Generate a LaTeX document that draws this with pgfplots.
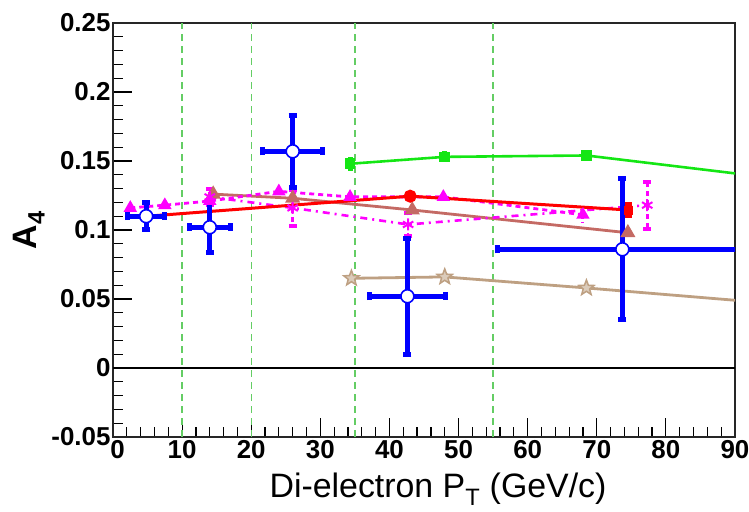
\documentclass[border=0pt]{standalone}
\usepackage{fontspec}
\setmainfont{Liberation Sans}
\usepackage{pgfplots}
\pgfplotsset{compat=1.18}
\usepackage{pgfplotstable}

\definecolor{rgreen}{RGB}{20,230,20}
\definecolor{rosy}{RGB}{196,106,100}
\definecolor{tanstar}{RGB}{190,160,130}
\definecolor{vgreen}{RGB}{100,205,100}
\definecolor{mag}{RGB}{255,0,255}
\definecolor{rred}{RGB}{255,0,0}
\definecolor{rblue}{RGB}{0,0,255}

% five-pointed star outline
\pgfdeclareplotmark{pstar}{%
  \pgfpathmoveto{\pgfpointpolar{90}{\pgfplotmarksize}}%
  \pgfpathlineto{\pgfpointpolar{126}{0.42\pgfplotmarksize}}%
  \pgfpathlineto{\pgfpointpolar{162}{\pgfplotmarksize}}%
  \pgfpathlineto{\pgfpointpolar{198}{0.42\pgfplotmarksize}}%
  \pgfpathlineto{\pgfpointpolar{234}{\pgfplotmarksize}}%
  \pgfpathlineto{\pgfpointpolar{270}{0.42\pgfplotmarksize}}%
  \pgfpathlineto{\pgfpointpolar{306}{\pgfplotmarksize}}%
  \pgfpathlineto{\pgfpointpolar{342}{0.42\pgfplotmarksize}}%
  \pgfpathlineto{\pgfpointpolar{18}{\pgfplotmarksize}}%
  \pgfpathlineto{\pgfpointpolar{54}{0.42\pgfplotmarksize}}%
  \pgfpathclose
  \pgfusepathqfillstroke}

% measured A4 with x and y uncertainties
\pgfplotstableread{
x    y      ex   ey
4.8  0.110  2.7  0.010
14.0 0.102  3.0  0.018
26.0 0.157  4.3  0.026
42.6 0.052  5.5  0.042
73.7 0.086  18.0 0.051
}\measured

\pgfplotstableread{
x    y      ey
34.3 0.148  0.005
48.0 0.153  0.004
68.5 0.154  0.003
95.0 0.138  0.000
}\greenset

\pgfplotstableread{
x    y
5.0  0.110
43.0 0.1245
74.5 0.1145
}\redset

\pgfplotstableread{
x    y
14.5 0.126
26.0 0.123
43.3 0.1145
74.5 0.098
}\rosyset

\pgfplotstableread{
x    y
34.5 0.065
48.0 0.066
68.5 0.058
95.0 0.047
}\tanset

\pgfplotstableread{
x    y      ey
2.5  0.116  0.000
7.5  0.118  0.000
14.0 0.121  0.000
24.0 0.128  0.000
34.3 0.124  0.000
47.8 0.124  0.000
68.0 0.111  0.006
}\magtri

\pgfplotstableread{
x    y      ey
14.0 0.124  0.006
26.0 0.116  0.013
42.7 0.104  0.008
77.3 0.118  0.017
}\magstar

\begin{document}
\begin{tikzpicture}
\path[use as bounding box] (0,0) rectangle (749bp,512bp);
\begin{axis}[
  at={(113bp,75bp)}, anchor=south west,
  scale only axis, width=622bp, height=414bp,
  xmin=0, xmax=90, ymin=-0.05, ymax=0.25,
  axis line style={line width=1.2bp, black!85},
  tick pos=left, tick align=inside,
  xtick={0,10,...,90},
  xticklabels={\hspace*{9bp}0,10,20,30,40,50,60,70,80,90},
  ytick={-0.05,0,0.05,0.1,0.15,0.2,0.25},
  yticklabels={-0.05,0,0.05,0.1,0.15,0.2,0.25},
  minor x tick num=4, minor y tick num=4,
  major tick length=19bp, minor tick length=10bp,
  every tick/.style={black, line width=1.2bp},
  tick label style={font=\fontsize{26}{30}\selectfont\bfseries},
  yticklabel style={xshift=1bp},
  xlabel={Di-electron P\textsubscript{T} (GeV/c)},
  ylabel={A\textsubscript{4}},
  xlabel style={font=\fontsize{34}{38}\selectfont, yshift=-7bp, xshift=14bp},
  ylabel style={font=\fontsize{34}{40}\selectfont\bfseries},
]
% bin boundaries
\addplot[vgreen, line width=1.3bp, dash pattern=on 7bp off 5bp] coordinates {(10,-0.05) (10,0.25)};
\addplot[vgreen, line width=1.3bp, dash pattern=on 7bp off 5bp] coordinates {(20,-0.05) (20,0.25)};
\addplot[vgreen, line width=1.3bp, dash pattern=on 7bp off 5bp] coordinates {(35,-0.05) (35,0.25)};
\addplot[vgreen, line width=1.3bp, dash pattern=on 7bp off 5bp] coordinates {(55,-0.05) (55,0.25)};
% zero line
\addplot[black, line width=1.2bp] coordinates {(0,0) (90,0)};

% tan stars
\addplot[tanstar, line width=2.8bp, mark=pstar, mark size=8bp,
  mark options={line width=1.5bp, solid, fill=tanstar!55}] table[x=x,y=y] {\tanset};

% green squares
\addplot[rgreen, line width=2.6bp, mark=square*, mark size=4bp,
  error bars/.cd, y dir=both, y explicit,
  error bar style={line width=5bp}, error mark=none]
  table[x=x,y=y,y error=ey] {\greenset};

% rosy triangles
\addplot[rosy, line width=2.8bp, mark=triangle*, mark size=6bp,
  mark options={solid}] table[x=x,y=y] {\rosyset};

% magenta triangles, dashed
\addplot[mag, line width=2.8bp, dash pattern=on 5bp off 4bp,
  mark=triangle*, mark size=5bp, mark options={solid},
  error bars/.cd, y dir=both, y explicit,
  error bar style={line width=3bp, dash pattern=on 4bp off 3bp}, error mark=none]
  table[x=x,y=y,y error=ey] {\magtri};

% magenta stars, dash-dot
\addplot[mag, line width=2.6bp, dash pattern=on 7bp off 5bp on 2bp off 5bp,
  mark=asterisk, mark size=6bp, mark options={solid, line width=2bp},
  error bars/.cd, y dir=both, y explicit,
  error bar style={line width=2.6bp, dash pattern=on 5bp off 4bp},
  error mark options={rotate=90, mark size=4bp, line width=4bp}]
  table[x=x,y=y,y error=ey] {\magstar};

% red line
\addplot[rred, line width=3bp, mark=*, mark size=5bp, mark indices={2}]
  table[x=x,y=y] {\redset};
\addplot[rred, only marks, mark=square*, mark size=4bp,
  error bars/.cd, y dir=both, y explicit,
  error bar style={line width=8bp}, error mark=none]
  coordinates {(74.5,0.1145) +- (0,0.006)};

% measurement
\addplot[rblue, only marks, mark=*, mark size=6.5bp,
  mark options={fill=white, draw=rblue, line width=1.6bp},
  error bars/.cd, x dir=both, y dir=both, x explicit, y explicit,
  error bar style={line width=4.8bp},
  error mark options={rotate=90, mark size=4bp, line width=5bp}]
  table[x=x,y=y,x error=ex,y error=ey] {\measured};
\end{axis}
\end{tikzpicture}
\end{document}
